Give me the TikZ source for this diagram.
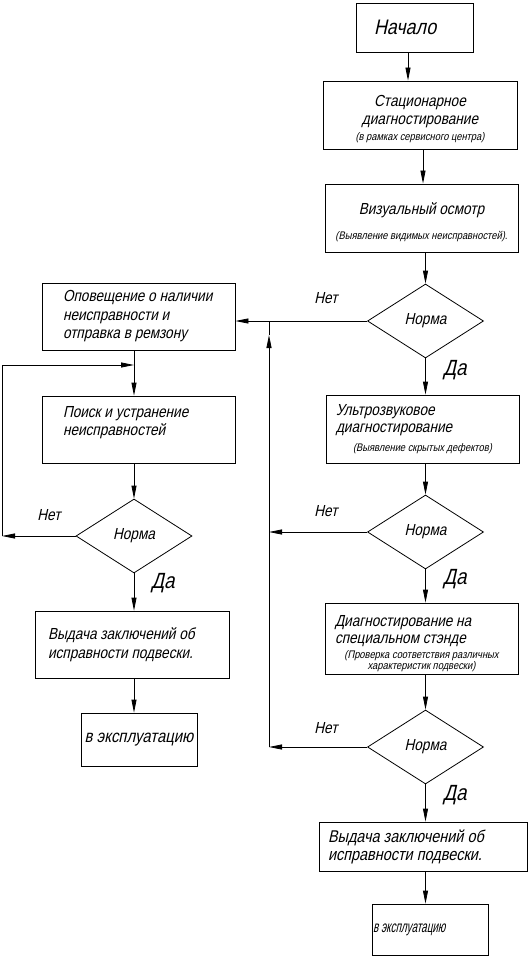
\documentclass[tikz,border=0pt]{standalone}
\usepackage{fontspec}
\newfontfamily\gost{Liberation Sans}[FakeStretch=0.85,FakeSlant=0.22]
\newfontfamily\gostn{Liberation Sans}[FakeStretch=0.62,FakeSlant=0.22]
\usetikzlibrary{shapes.geometric,arrows.meta}
\newcommand\smtxt{\fontsize{11}{12}\selectfont}
\begin{document}
\begin{tikzpicture}[x=1pt,y=-1pt,
  box/.style={draw,line width=0.8pt,rectangle,inner sep=0pt,font=\gost\fontsize{16}{17.5}\selectfont},
  dia/.style={draw,line width=0.8pt,diamond,aspect=1.5676,minimum width=116pt,minimum height=74pt,inner sep=0pt,font=\gost\fontsize{16}{17.5}\selectfont},
  arr/.style={line width=0.8pt,-{Triangle[length=13pt,width=5pt]}},
  conn/.style={line width=0.8pt},
  lbl/.style={font=\gost\fontsize{16}{17.5}\selectfont,inner sep=0pt},
  da/.style={font=\gost\fontsize{22}{22}\selectfont,inner sep=0pt},
]
\useasboundingbox (0,0) rectangle (528,960);

% right column
\node[box,minimum width=117pt,minimum height=49pt,text width=81pt,align=flush left,font=\gost\fontsize{21}{22}\selectfont] (start) at (414.5,27.5) {Начало};
\node[box,minimum width=194pt,minimum height=68pt,text width=190pt,align=flush center] (stat) at (420,115)
  {\mbox{}\\[2pt]Стационарное\\диагностирование\\[-1pt]{\smtxt (в рамках сервисного центра)}};
\node[box,minimum width=193pt,minimum height=68pt,text width=190pt,align=flush center] (vis) at (421.5,218)
  {\mbox{}\\[2.5pt]Визуальный осмотр\\[7.5pt]{\smtxt (Выявление видимых неисправностей).}};
\node[dia] (d1) at (425.5,321) {Норма};
\node[box,minimum width=193pt,minimum height=68pt,text width=173pt,align=flush left] (ultra) at (422.5,429)
  {Ультрозвуковое\\диагностирование\\[1pt]\makebox[\linewidth]{\smtxt (Выявление скрытых дефектов)}};
\node[dia] (d2) at (425.5,532) {Норма};
\node[box,minimum width=193pt,minimum height=71pt,text width=173pt,align=flush left] (diag) at (421.5,638.5)
  {\mbox{}\\[3pt]Диагностирование на\\специальном стэнде\\[-3pt]\makebox[\linewidth]{\smtxt (Проверка соответствия различных}\\[-6.5pt]\makebox[\linewidth]{\smtxt характеристик подвески)}};
\node[dia] (d3) at (425.5,747) {Норма};
\node[box,minimum width=208pt,minimum height=49pt,text width=190pt,align=flush left,font=\gost\fontsize{17}{18}\selectfont] (outR) at (423,846.5)
  {Выдача заключений об\\исправности подвески.};
\node[box,minimum width=116pt,minimum height=51pt,text width=114pt,align=flush left,font=\gostn\fontsize{16}{17}\selectfont] (explR) at (430,929.5)
  {в эксплуатацию};

% left column
\node[box,minimum width=193pt,minimum height=67pt,text width=151pt,align=flush left] (opov) at (138.5,316.5)
  {\mbox{Оповещение о наличии}\\[1pt]\mbox{неисправности и}\\[1pt]\mbox{отправка в ремзону}};
\node[box,minimum width=193pt,minimum height=67pt,text width=151pt,align=flush left] (poisk) at (138.5,429.5)
  {Поиск и устранение\\[1pt]неисправностей\\\mbox{}};
\node[dia] (d4) at (134,536) {Норма};
\node[box,minimum width=194pt,minimum height=67pt,text width=168pt,align=flush left] (outL) at (132,644.5)
  {Выдача заключений об\\[1pt]исправности подвески.};
\node[box,minimum width=116pt,minimum height=53pt,align=center,font=\gost\fontsize{17.5}{18}\selectfont] (explL) at (139,739.5)
  {в эксплуатацию};

% labels
\node[lbl] (n1) at (326,298) {Нет};
\node[lbl] (n2) at (326,511) {Нет};
\node[lbl] (n3) at (326,728) {Нет};
\node[lbl] (n4) at (49,515) {Нет};
\node[da] (y1) at (455,370) {Да};
\node[da] (y2) at (455,579) {Да};
\node[da] (y3) at (455,795) {Да};
\node[da] (y4) at (163,583) {Да};

% right connectors
\draw[arr] ([xshift=-6.5pt]start.south) -- ([xshift=-6.5pt]start.south |- stat.north);
\draw[arr] ([xshift=3pt]stat.south) -- ([xshift=3pt]stat.south |- vis.north);
\draw[arr] (vis.south -| d1.north) -- (d1.north);
\draw[arr] (d1.south) -- (d1.south |- ultra.north);
\draw[arr] (ultra.south -| d2.north) -- (d2.north);
\draw[arr] (d2.south) -- (d2.south |- diag.north);
\draw[arr] (diag.south -| d3.north) -- (d3.north);
\draw[arr] (d3.south) -- (d3.south |- outR.north);
\draw[arr] (outR.south -| d3.south) -- (explR.north -| d3.south);

\coordinate (rtop) at (269,321);
\coordinate (rtip) at (269,335);
\coordinate (r2) at (269,532);
\coordinate (r3) at (269,747);
\draw[arr] (d1.west) -- (d1.west -| opov.east);
\draw[arr] (r3) -- (rtip);
\draw[conn] (rtip) -- (rtop);
\draw[arr] (d2.west) -- (r2);
\draw[arr] (d3.west) -- (r3);

% left connectors
\coordinate (lj) at (134,365);
\coordinate (lb) at (2,536);
\draw[arr] (lj |- opov.south) -- (lj |- poisk.north);
\draw[arr] (lj |- poisk.south) -- (d4.north);
\draw[arr] (d4.south) -- (d4.south |- outL.north);
\draw[arr] (outL.south -| d4.south) -- (explL.north -| d4.south);
\draw[arr] (d4.west) -- (lb);
\draw[arr] (lb) |- (lj);
\end{tikzpicture}
\end{document}
